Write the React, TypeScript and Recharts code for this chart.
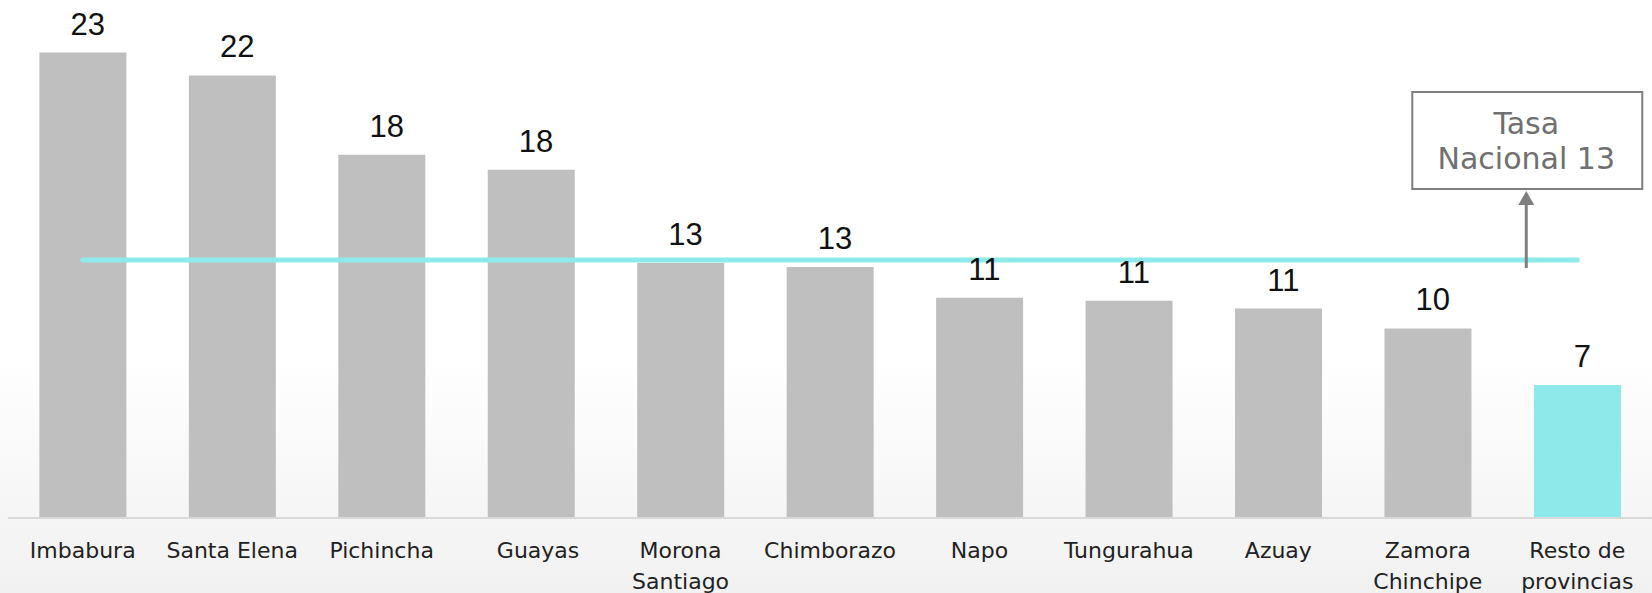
import React from 'react';
import { ComposedChart, Bar, Line, XAxis, YAxis, Cell, LabelList, ReferenceDot } from 'recharts';

const categories = [
  'Imbabura', 'Santa Elena', 'Pichincha', 'Guayas', 'Morona Santiago', 'Chimborazo',
  'Napo', 'Tungurahua', 'Azuay', 'Zamora Chinchipe', 'Resto de provincias',
];
const tickLabels = [
  ['Imbabura'], ['Santa Elena'], ['Pichincha'], ['\u00a0\u00a0Guayas'], ['Morona', 'Santiago'], ['Chimborazo'],
  ['Napo'], ['Tungurahua'], ['Azuay'], ['Zamora', 'Chinchipe'], ['Resto de', 'provincias'],
];
const values = [23.45, 22.3, 18.3, 17.55, 12.85, 12.65, 11.1, 10.95, 10.55, 9.55, 6.7];
const valueLabels = ['23', '22', '18', '18', '13', '13', '11', '11', '11', '10', '7'];
const nationalRate = 13;
const annotationLines = ['Tasa', 'Nacional 13'];

const GRAY = '#bfbfbf';
const CYAN = '#8de9ea';

const data = categories.map((c, i) => ({
  name: c,
  value: values[i],
  label: valueLabels[i],
  tasa: nationalRate,
}));

const CategoryTick = (props: any) => {
  const { x, y, index } = props;
  const lines = tickLabels[index] || [];
  return (
    <g>
      {lines.map((t, k) => (
        <text
          key={k}
          x={x}
          y={y + 40 + k * 30.5}
          textAnchor="middle"
          fontFamily="DejaVu Sans"
          fontSize={22}
          fill="#222"
        >
          {t}
        </text>
      ))}
    </g>
  );
};

const ValueLabel = (props: any) => {
  const { x, y, value } = props;
  return (
    <text
      x={x + 5}
      y={y - 18}
      textAnchor="middle"
      fontFamily="Liberation Sans"
      fontSize={31}
      fill="#111"
    >
      {value}
    </text>
  );
};

const Annotation = (props: any) => {
  const { cx, cy } = props;
  const ax = cx - 51;
  return (
    <g>
      <line x1={ax} y1={cy + 8} x2={ax} y2={cy - 56} stroke="#7f7f7f" strokeWidth={3} />
      <polygon points={`${ax},${cy - 69} ${ax - 8},${cy - 55} ${ax + 8},${cy - 55}`} fill="#7f7f7f" />
      <rect x={cx - 165} y={cy - 168} width={230} height={97} fill="#ffffff" stroke="#7f7f7f" strokeWidth={2} />
      {annotationLines.map((t, k) => (
        <text
          key={k}
          x={ax}
          y={cy - 137 + k * 35}
          dominantBaseline="central"
          textAnchor="middle"
          fontFamily="DejaVu Sans"
          fontSize={30}
          fill="#707070"
        >
          {t}
        </text>
      ))}
    </g>
  );
};

export default function App() {
  return (
    <div
      style={{
        position: 'fixed',
        left: 0,
        top: 0,
        width: 1652,
        height: 593,
        background: 'linear-gradient(to bottom, #ffffff 0%, #ffffff 60%, #f1f1f1 100%)',
      }}
    >
      <ComposedChart
        width={1652}
        height={593}
        data={data}
        margin={{ top: 2, right: 0, bottom: 5, left: 8 }}
        barCategoryGap="21%"
      >
        <XAxis
          dataKey="name"
          interval={0}
          tickLine={false}
          tickSize={0}
          tickMargin={0}
          height={70}
          axisLine={{ stroke: '#d9d9d9', strokeWidth: 2 }}
          tick={<CategoryTick />}
        />
        <YAxis hide domain={[0, 26]} />
        <Bar dataKey="value" isAnimationActive={false}>
          {data.map((d, i) => (
            <Cell key={i} fill={i === data.length - 1 ? CYAN : GRAY} />
          ))}
        </Bar>
        <Line
          dataKey="tasa"
          type="linear"
          stroke={CYAN}
          strokeWidth={5}
          strokeLinecap="round"
          dot={false}
          activeDot={false}
          isAnimationActive={false}
        />
        <Line
          dataKey="value"
          type="linear"
          stroke="none"
          dot={false}
          activeDot={false}
          isAnimationActive={false}
        >
          <LabelList dataKey="label" content={<ValueLabel />} />
        </Line>
        <ReferenceDot
          x={categories[categories.length - 1]}
          y={nationalRate}
          ifOverflow="visible"
          shape={<Annotation />}
        />
      </ComposedChart>
    </div>
  );
}
